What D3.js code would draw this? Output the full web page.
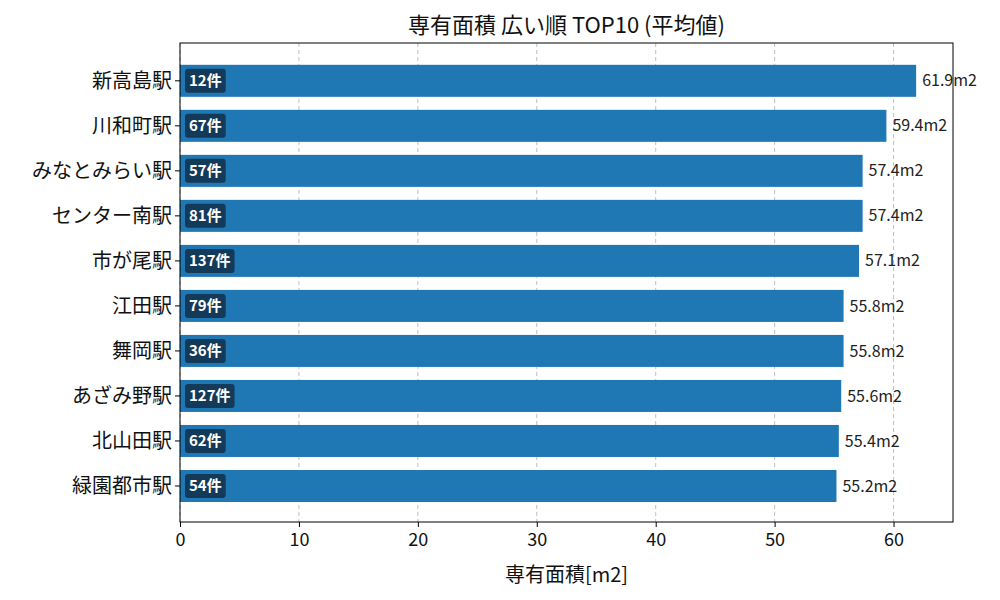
<!DOCTYPE html>
<html><head><meta charset="utf-8">
<script src="https://cdn.jsdelivr.net/npm/d3@7"></script>
<style>body{margin:0;background:#fff;font-family:"Noto Sans CJK JP","Noto Sans",sans-serif;}</style>
</head><body>
<script>
var stations = ['新高島駅','川和町駅','みなとみらい駅','センター南駅','市が尾駅','江田駅','舞岡駅','あざみ野駅','北山田駅','緑園都市駅'];
var areas = [61.9, 59.4, 57.4, 57.4, 57.1, 55.8, 55.8, 55.6, 55.4, 55.2];
var counts = [12, 67, 57, 81, 137, 79, 36, 127, 62, 54];
var xTicks = [0, 10, 20, 30, 40, 50, 60];

var W = 1000, H = 600, L = 180, R = 953, T = 43, B = 522;
var svg = d3.select('body').append('svg').attr('width', W).attr('height', H);
var x = d3.scaleLinear().domain([0, 65]).range([L, R]);
var y = d3.scaleLinear().domain([-0.84, 9.8]).range([T, B]);
var bh = 32;

// grid
svg.selectAll('.grid').data(xTicks).enter().append('line')
  .attr('x1', d => x(d)).attr('x2', d => x(d)).attr('y1', T).attr('y2', B)
  .attr('stroke', '#b0b0b0').attr('stroke-dasharray', '4,3').attr('stroke-width', 0.8);

svg.selectAll('.bar').data(areas).enter().append('rect')
  .attr('x', x(0)).attr('y', (d, i) => y(i) - bh / 2)
  .attr('width', d => x(d) - x(0)).attr('height', bh).attr('fill', '#1f77b4');

svg.selectAll('.val').data(areas).enter().append('text')
  .attr('x', d => x(d) + 6).attr('y', (d, i) => y(i)).attr('dy', '0.35em')
  .attr('font-size', 16).attr('fill', '#222').text(d => d.toFixed(1) + 'm2');

var badges = svg.selectAll('.badge').data(counts).enter().append('g');
badges.append('text')
  .attr('x', x(0) + 9).attr('y', (d, i) => y(i)).attr('dy', '0.35em')
  .attr('font-size', 15).attr('font-weight', 'bold').attr('fill', '#fff')
  .text(d => d + '件')
  .each(function (d, i) {
    var bb = this.getBBox();
    d3.select(this.parentNode).insert('rect', 'text')
      .attr('x', bb.x - 4).attr('y', y(i) - 12).attr('width', bb.width + 8).attr('height', 24)
      .attr('rx', 3).attr('fill', '#143a5a');
  });

svg.selectAll('.ylab').data(stations).enter().append('text')
  .attr('x', L - 8).attr('y', (d, i) => y(i)).attr('dy', '0.35em')
  .attr('text-anchor', 'end').attr('font-size', 20).attr('fill', '#111').text(d => d);
svg.selectAll('.ytick').data(stations).enter().append('line')
  .attr('x1', L - 5).attr('x2', L).attr('y1', (d, i) => y(i)).attr('y2', (d, i) => y(i)).attr('stroke', '#000');

var xa = svg.append('g').attr('transform', 'translate(0,' + B + ')')
  .call(d3.axisBottom(x).tickValues(xTicks).tickSize(5).tickSizeOuter(0));
xa.select('.domain').remove();
xa.selectAll('text').attr('font-size', 18).attr('font-family', '"Noto Sans CJK JP",sans-serif').attr('fill', '#111').attr('dy', '0.9em');

svg.append('rect').attr('x', L).attr('y', T).attr('width', R - L).attr('height', B - T)
  .attr('fill', 'none').attr('stroke', '#000').attr('stroke-width', 1);

svg.append('text').attr('x', (L + R) / 2).attr('y', 33).attr('text-anchor', 'middle')
  .attr('font-size', 22).attr('fill', '#111').text('専有面積 広い順 TOP10 (平均値)');
svg.append('text').attr('x', (L + R) / 2).attr('y', 582).attr('text-anchor', 'middle')
  .attr('font-size', 20).attr('fill', '#111').text('専有面積[m2]');
</script>
</body></html>
